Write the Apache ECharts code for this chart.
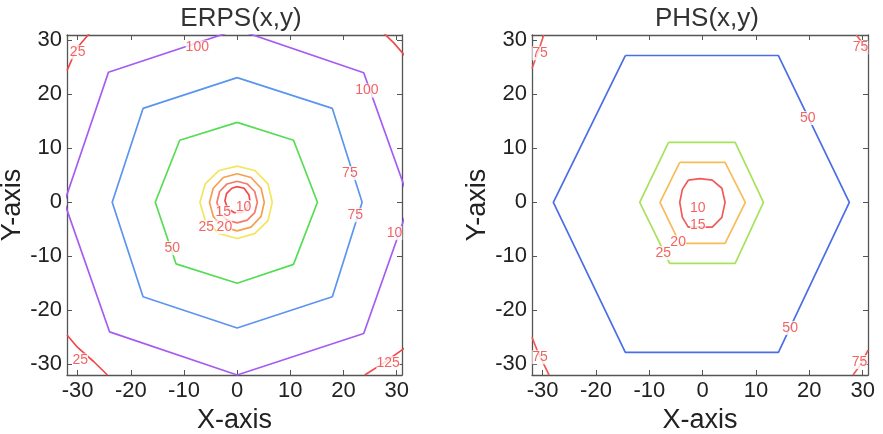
<!DOCTYPE html>
<html>
<head>
<meta charset="utf-8">
<script src="https://cdn.jsdelivr.net/npm/echarts@6/dist/echarts.min.js"></script>
<style>
  html, body { margin: 0; padding: 0; background: #fff; }
  .charts { width: 883px; height: 434px; }
</style>
</head>
<body>
<div class="charts" id="chart"></div>
<script>
const tickValues = [-30, -20, -10, 0, 10, 20, 30];
const titles = ["ERPS(x,y)", "PHS(x,y)"];

// ERPS contours, [x, y] vertices
const erps10 = [[0,2.9],[1.3,2.6],[2.2,1.4],[2.4,0.3],[1.8,-1.2],[0.8,-1.9],[-0.6,-1.9],[-1.8,-1.1],[-2.3,0.3],[-2,1.6],[-1,2.6],[0,2.9]];
const erps15 = [[0,3.9],[1.9,3.4],[3.3,2],[3.8,0],[3.3,-1.9],[1.9,-3.3],[0,-3.8],[-1.9,-3.3],[-3.3,-1.9],[-3.8,0],[-3.3,2],[-1.9,3.4],[0,3.9]];
const erps20 = [[0,5.3],[2.6,4.6],[4.5,2.6],[5.1,0],[4.5,-2.6],[2.6,-4.6],[0,-5.3],[-2.6,-4.6],[-4.5,-2.6],[-5.2,0],[-4.5,2.6],[-2.6,4.6],[0,5.3]];
const erps25 = [[0,6.7],[3.3,5.9],[5.8,3.4],[6.6,0],[5.8,-3.4],[3.3,-5.8],[0,-6.7],[-3.4,-5.8],[-6,-3.4],[-7,0],[-6,3.4],[-3.4,5.9],[0,6.7]];
const erps50 = [[0,14.8],[10.6,11.5],[15.1,0],[10.6,-11.5],[0,-15],[-11.5,-11.4],[-15.4,0],[-10.8,11.5],[0,14.8]];
const erps75 = [[0,23.1],[17.9,17.4],[23.5,0],[17.9,-17.5],[0,-23.3],[-17.7,-17.5],[-23.5,0],[-17.7,17.4],[0,23.1]];
const erps100 = [[0,32],[23.8,24],[32.5,0],[23.8,-24.3],[0,-32],[-24,-24],[-32.5,0],[-24.2,24.1],[0,32]];
const erps125a = [[-32,24.4],[-30.2,28.5],[-27.6,31.5]];
const erps125b = [[27.4,31.5],[29.5,29.5],[31.5,27.2]];
const erps125c = [[-32,-24.6],[-30,-26.9],[-27,-29.5],[-24.4,-32]];
const erps125d = [[24,-32],[27.5,-29.8],[31.5,-27]];

// PHS contours, right panel
const phs15 = [[-2.7,4.1],[-0.5,4.4],[1.8,4.1],[3.6,2.6],[4.2,0],[3.6,-2.8],[1.8,-4.6],[-2.7,-4.6],[-3.8,-2.8],[-4.3,0],[-3.8,2.4],[-2.7,4.1]];
const phs20 = [[-4.3,7.4],[4.2,7.4],[8,0],[4.2,-7.6],[-4.3,-7.6],[-8,0],[-4.3,7.4]];
const phs25 = [[-6.4,11.1],[6.1,11.1],[11.4,0],[6.1,-11.3],[-6.2,-11.3],[-11.8,0],[-6.4,11.1]];
const phs50 = [[-14.5,27.2],[14.2,27.2],[27.5,0],[14.2,-27.8],[-14.5,-27.8],[-28,0],[-14.5,27.2]];
const phs75a = [[-32,24.8],[-30.8,28],[-29.8,31]];
const phs75b = [[28.8,31],[30,29.5],[31,27.5]];
const phs75c = [[-32,-25],[-31,-27.5],[-29.8,-30],[-28.8,-32]];
const phs75d = [[28.2,-32],[29.8,-29.8],[31,-27.4]];

// contour labels: [x, y, text]
const erpsLabels = [[-7.5,28.7,"100"],[24.4,20.7,"100"],[21.2,5.4,"75"],[22.2,-2.4,"75"],[29.6,-5.7,"10"],[-12.2,-8.5,"50"],
  [-30,27.8,"25"],[-29.5,-29.3,"25"],[28.4,-29.8,"125"],[1.2,-0.9,"10"],[-2.6,-1.9,"15"],[-5.8,-4.6,"25"],[-2.4,-4.6,"20"]];
const phsLabels = [[19.7,15.6,"50"],[16.4,-23.3,"50"],[-0.9,-1.1,"10"],[-0.9,-4.3,"15"],[-4.6,-7.4,"20"],[-7.4,-9.4,"25"],
  [-30.5,27.6,"75"],[29.6,28.7,"75"],[-30.5,-28.7,"75"],[29.4,-29.6,"75"]];

const erpsLines = [
  [erps10, "#f24a4a"], [erps15, "#f57a6a"], [erps20, "#f5a050"], [erps25, "#f3e65e"],
  [erps50, "#55dd55"], [erps75, "#5b95ee"], [erps100, "#a55cf2"],
  [erps125a, "#f24a4a"], [erps125b, "#f24a4a"], [erps125c, "#f24a4a"], [erps125d, "#f24a4a"]
];
const phsLines = [
  [phs15, "#f05a5a"], [phs20, "#f7bb5a"], [phs25, "#a8e25a"], [phs50, "#4a6ee6"],
  [phs75a, "#f05a5a"], [phs75b, "#f05a5a"], [phs75c, "#f05a5a"], [phs75d, "#f05a5a"]
];

function makeAxes(gridIndex, dim) {
  const base = {
    type: "value", gridIndex: gridIndex, min: -32, max: 31,
    splitLine: { show: false },
    axisLine: { show: true, onZero: false, lineStyle: { color: "#555", width: 1.3 } },
    axisTick: { show: true, inside: true, length: 5, customValues: tickValues, lineStyle: { color: "#555" } },
    axisLabel: { show: true, customValues: tickValues, color: "#222", fontSize: 22, fontFamily: "Liberation Sans", margin: 5 }
  };
  const main = Object.assign({}, base, {
    position: dim === "x" ? "bottom" : "left",
    name: dim === "x" ? "X-axis" : "Y-axis",
    nameLocation: "middle",
    nameGap: dim === "x" ? 25 : 35,
    nameTextStyle: { color: "#222", fontSize: 27, fontFamily: "Liberation Sans" }
  });
  const other = Object.assign({}, base, {
    position: dim === "x" ? "top" : "right",
    axisLabel: { show: false, customValues: tickValues }
  });
  return [main, other];
}

function lineSeries(list, idx) {
  return list.map(function (item) {
    return {
      type: "line", xAxisIndex: idx * 2, yAxisIndex: idx * 2,
      data: item[0], showSymbol: false, symbol: "none", clip: true,
      lineStyle: { color: item[1], width: 1.7 }, z: 2
    };
  });
}

function labelSeries(list, idx) {
  return {
    type: "scatter", xAxisIndex: idx * 2, yAxisIndex: idx * 2,
    symbolSize: 0, z: 5,
    data: list.map(function (l) { return { value: [l[0], l[1]], name: l[2] }; }),
    label: {
      show: true, position: "inside", formatter: "{b}",
      color: "#f03c3c", fontSize: 14, fontFamily: "Liberation Sans",
      backgroundColor: "#fff", padding: [0, 0]
    }
  };
}

function setChart() {
  const chart = document.getElementById("chart");
  const myChart = echarts.init(chart);
  const xa = makeAxes(0, "x").concat(makeAxes(1, "x"));
  const ya = makeAxes(0, "y").concat(makeAxes(1, "y"));
  const titleStyle = { color: "#333", fontSize: 26, fontWeight: "normal", fontFamily: "Liberation Sans" };
  const option = {
    animation: false,
    title: [
      { text: titles[0], left: 236, top: 1, textAlign: "center", textStyle: titleStyle },
      { text: titles[1], left: 702, top: 1, textAlign: "center", textStyle: titleStyle }
    ],
    grid: [
      { left: 67, top: 35, width: 335, height: 340, outerBoundsMode: "none", containLabel: false },
      { left: 532, top: 35, width: 336, height: 340, outerBoundsMode: "none", containLabel: false }
    ],
    xAxis: xa,
    yAxis: ya,
    series: lineSeries(erpsLines, 0).concat(lineSeries(phsLines, 1), [labelSeries(erpsLabels, 0), labelSeries(phsLabels, 1)])
  };
  myChart.setOption(option);
  window.addEventListener("resize", function () {
    myChart.resize();
  });
}
setChart();
</script>
</body>
</html>
